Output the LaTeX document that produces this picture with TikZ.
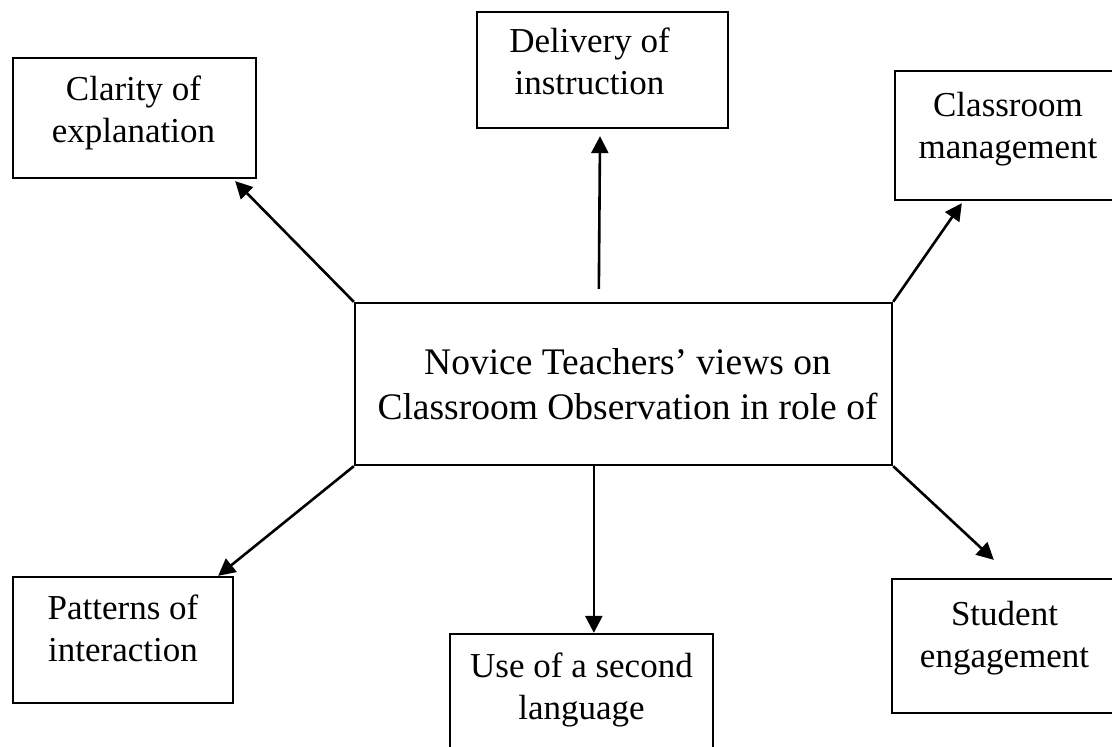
\documentclass[tikz,border=0pt]{standalone}
\usepackage{fontspec}
\setmainfont{Liberation Serif}
\usetikzlibrary{positioning,arrows.meta}
\tikzset{
  box/.style={draw, line width=2.3pt, inner sep=0pt},
  boxtext/.style={inner sep=0pt, align=center, font=\fontsize{35}{42}\selectfont},
  link/.style={line width=2.6pt, -{Triangle[length=17pt,width=17pt]}}
}
\begin{document}
\begin{tikzpicture}[x=1pt,y=-1pt]
  \clip (0,0) rectangle (1112,747);
  % boxes
  \node[box, minimum width=537pt, minimum height=162pt] (cen) at (623.5,384) {};
  \node[box, minimum width=243pt, minimum height=120pt] (clar) at (134.5,118) {};
  \node[box, minimum width=251pt, minimum height=116pt] (deliv) at (602.5,70) {};
  \node[box, minimum width=226pt, minimum height=129pt] (class) at (1008,135.5) {};
  \node[box, minimum width=220pt, minimum height=126pt] (pat) at (123,640) {};
  \node[box, minimum width=263pt, minimum height=131pt] (use) at (581.5,699.5) {};
  \node[box, minimum width=225pt, minimum height=134pt] (stud) at (1004.5,646) {};
  % texts
  \node[boxtext, font=\fontsize{37.5}{45}\selectfont, below=46pt of cen.north, xshift=4pt] (centxt)
    {Novice Teachers’ views on\\Classroom Observation in role of};
  \node[boxtext, below=19pt of clar.north, xshift=-1pt] (clartxt) {Clarity of\\explanation};
  \node[boxtext, below=17pt of deliv.north, xshift=-13pt] (delivtxt) {Delivery of\\instruction};
  \node[boxtext, below=22pt of class.north] (classtxt) {Classroom\\management};
  \node[boxtext, below=19pt of pat.north] (pattxt) {Patterns of\\interaction};
  \node[boxtext, below=20pt of use.north] (usetxt) {Use of a second\\language};
  \node[boxtext, below=23pt of stud.north] (studtxt) {Student\\engagement};
  % arrows
  \draw[link] (cen.north west) -- ([xshift=-22pt,yshift=-2pt]clar.south east);
  \draw[link] ([xshift=245pt,yshift=13pt]cen.north west) -- ([xshift=-2.5pt,yshift=-7pt]deliv.south);
  \draw[link] (cen.north east) -- ([xshift=68pt,yshift=-2pt]class.south west);
  \draw[link] (cen.south west) -- ([xshift=-16pt]pat.north east);
  \draw[link] ([xshift=240pt]cen.south west) -- ([xshift=145pt]use.north west);
  \draw[link] (cen.south east) -- ([xshift=103pt,yshift=18pt]stud.north west);
\end{tikzpicture}
\end{document}
